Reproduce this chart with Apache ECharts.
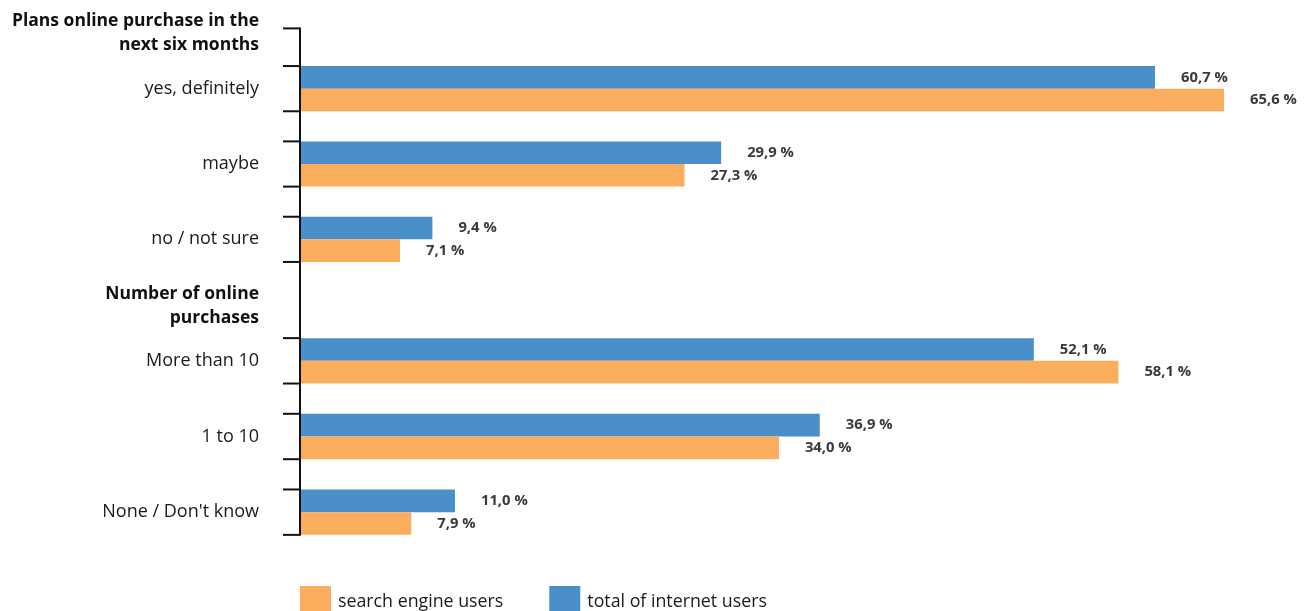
<!DOCTYPE html>
<html><head><meta charset="utf-8">
<script src="https://cdn.jsdelivr.net/npm/echarts@6/dist/echarts.min.js"></script>
<style>html,body{margin:0;padding:0;background:#fff}#c{width:1312px;height:611px}</style>
</head><body><div id="c"></div>
<script>
// ---- data ----
const groupTitles = ['Plans online purchase in the\nnext six months', 'Number of online\npurchases'];
const categoriesA = ['yes, definitely', 'maybe', 'no / not sure'];
const categoriesB = ['More than 10', '1 to 10', "None / Don't know"];
const totalUsersA = [60.7, 29.9, 9.4];
const searchUsersA = [65.6, 27.3, 7.1];
const totalUsersB = [52.1, 36.9, 11.0];
const searchUsersB = [58.1, 34.0, 7.9];
const seriesNames = ['search engine users', 'total of internet users'];

// ---- style ----
const FONT = 'Open Sans';
const BLUE = '#4a8eca';
const ORANGE = '#fbad5e';
const GAP_RATIO = 0.4;

const chart = echarts.init(document.getElementById('c'), null, {renderer: 'canvas'});

function fmt(p) { return p.value.toFixed(1).replace('.', ',') + ' %'; }
const labelCfg = {show: true, position: 'right', distance: 26, formatter: fmt,
  fontFamily: FONT, fontWeight: 'bold', fontSize: 14.8, color: '#3a3a3a', padding: [2, 0, 0, 0]};

function yAx(grid, cats) {
  return {type: 'category', gridIndex: grid, data: cats, inverse: true,
    axisLine: {show: false}, axisTick: {show: false}, splitLine: {show: false},
    axisLabel: {fontFamily: FONT, fontSize: 18, color: '#1a1a1a', margin: 41,
      lineHeight: 22, padding: [4, 0, 0, 0]}};
}
function xAx(grid) {
  return {type: 'value', gridIndex: grid, min: 0, max: 70, show: false, splitLine: {show: false}};
}
function bar(name, data, idx, color) {
  return {type: 'bar', name: name, data: data, xAxisIndex: idx, yAxisIndex: idx,
    barGap: '0%', barCategoryGap: (GAP_RATIO * 100) + '%',
    itemStyle: {color: color}, label: labelCfg, animation: false};
}

chart.setOption({
  animation: false,
  textStyle: {fontFamily: FONT},
  grid: [
    {left: 300, right: 26, top: 51, height: 226},
    {left: 300, right: 26, top: 323, height: 227}
  ],
  xAxis: [xAx(0), xAx(1)],
  yAxis: [yAx(0, categoriesA), yAx(1, categoriesB)],
  legend: {data: seriesNames, left: 300, top: 586, itemWidth: 31, itemHeight: 31, itemGap: 46,
    padding: 0, icon: 'rect',
    textStyle: {fontFamily: FONT, fontSize: 17.8, color: '#1a1a1a', padding: [0, 0, 0, 2]}},
  series: [
    bar(seriesNames[1], totalUsersA, 0, BLUE),
    bar(seriesNames[0], searchUsersA, 0, ORANGE),
    bar(seriesNames[1], totalUsersB, 1, BLUE),
    bar(seriesNames[0], searchUsersB, 1, ORANGE)
  ]
});

// axis line & ticks at bar-group edges, computed from the library's scales
function groupEdges(yIdx, cats) {
  const c = cats.map((_, i) => chart.convertToPixel({yAxisIndex: yIdx}, i));
  const band = Math.abs(c[1] - c[0]);
  const half = band * (1 - GAP_RATIO) / 2;
  return {band: band, edges: c.map(v => [v - half, v + half])};
}
const gA = groupEdges(0, categoriesA);
const gB = groupEdges(1, categoriesB);
const axisX = chart.convertToPixel({xAxisIndex: 0}, 0);
const topY = gA.edges[0][0] - gA.band / 2;
const ticks = [topY];
gA.edges.concat(gB.edges).forEach(e => { ticks.push(e[0], e[1]); });
const bottomY = ticks[ticks.length - 1];
const lineStyle = {stroke: '#111', lineWidth: 2};
const graphics = [
  {type: 'line', z: 100, shape: {x1: axisX, y1: topY - 1, x2: axisX, y2: bottomY + 1}, style: lineStyle}
];
ticks.forEach(t => graphics.push({type: 'line', z: 100,
  shape: {x1: axisX - 17, y1: t, x2: axisX, y2: t}, style: lineStyle}));
const headFont = 'bold 17.5px "' + FONT + '"';
graphics.push({type: 'text', z: 100, x: 259, y: gA.edges[0][0] - 57,
  style: {text: groupTitles[0], font: headFont, fill: '#111',
    textAlign: 'right', textVerticalAlign: 'top', lineHeight: 24}});
graphics.push({type: 'text', z: 100, x: 259, y: gB.edges[0][0] - 56,
  style: {text: groupTitles[1], font: headFont, fill: '#111',
    textAlign: 'right', textVerticalAlign: 'top', lineHeight: 24}});
chart.setOption({graphic: graphics});
</script>
</body></html>
